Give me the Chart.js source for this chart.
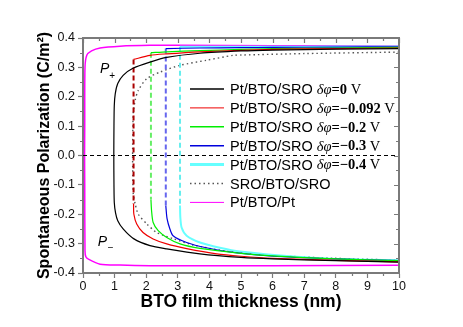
<!DOCTYPE html>
<html>
<head>
<meta charset="utf-8">
<script src="https://cdn.jsdelivr.net/npm/chart.js@4.4.0/dist/chart.umd.min.js"></script>
<style>
  html, body { margin: 0; padding: 0; background: #fff; }
</style>
</head>
<body>
<canvas id="polCanvas" width="463" height="327"></canvas>
<script>
// thickness (nm) / polarization (C/m2), upper branch first then lower
const thickBias0 = [10, 8, 6, 5, 3.7, 2.65, 2.12, 1.58, 1.27, 1.1, 1.02, 0.99, 0.98, 0.975, 0.98, 0.99, 1.03, 1.1, 1.27, 1.6, 2.12, 2.65, 3.7, 5, 6, 8, 10];
const polBias0 = [0.364, 0.362, 0.359, 0.356, 0.348, 0.334, 0.318, 0.297, 0.273, 0.245, 0.21, 0.17, 0.1, 0.0, -0.1, -0.16, -0.195, -0.222, -0.25, -0.283, -0.307, -0.318, -0.335, -0.347, -0.352, -0.358, -0.363];

const thickBias1 = [10, 8, 6, 5, 3.7, 2.65, 2.12, 1.6, 1.6, 1.61, 1.7, 1.9, 2.22, 2.65, 3.28, 4.23, 5, 6, 8, 10];
const polBias1 = [0.366, 0.364, 0.361, 0.358, 0.353, 0.346, 0.341, 0.327, -0.165, -0.2, -0.233, -0.262, -0.284, -0.301, -0.317, -0.335, -0.343, -0.35, -0.357, -0.362];

const thickBias2 = [10, 8, 6, 5, 3.7, 2.65, 2.15, 2.15, 2.17, 2.22, 2.38, 2.65, 3.07, 3.7, 5, 6, 8, 10];
const polBias2 = [0.368, 0.366, 0.364, 0.361, 0.357, 0.353, 0.35, -0.15, -0.188, -0.228, -0.256, -0.279, -0.301, -0.316, -0.333, -0.342, -0.352, -0.358];

const thickBias3 = [10, 8, 6, 5, 3.7, 2.62, 2.62, 2.66, 2.75, 2.85, 3.28, 3.9, 4.75, 6, 8, 10];
const polBias3 = [0.37, 0.369, 0.368, 0.367, 0.366, 0.364, -0.17, -0.215, -0.25, -0.273, -0.296, -0.314, -0.33, -0.343, -0.352, -0.358];

const thickBias4 = [10, 8, 6, 5, 4, 3.07, 3.07, 3.08, 3.12, 3.28, 3.7, 4.33, 4.97, 6.76, 8, 10];
const polBias4 = [0.371, 0.371, 0.37, 0.37, 0.37, 0.37, -0.17, -0.21, -0.245, -0.273, -0.296, -0.314, -0.327, -0.345, -0.352, -0.357];

const thickSro = [10, 7, 5, 4.75, 3.9, 3.07, 2.44, 2.02, 1.75, 1.65, 1.59, 1.57, 1.59, 1.65, 1.75, 2.02, 2.33, 2.85, 3.5, 4.5, 6, 8, 10];
const polSro = [0.352, 0.347, 0.342, 0.341, 0.324, 0.307, 0.284, 0.262, 0.222, 0.188, 0.143, 0, -0.13, -0.164, -0.2, -0.233, -0.262, -0.283, -0.305, -0.325, -0.34, -0.35, -0.356];

const thickPt = [10, 6, 3, 2.12, 1.17, 0.54, 0.27, 0.12, 0.063, 0.055, 0.05, 0.055, 0.063, 0.09, 0.17, 0.54, 1.17, 2.12, 3, 6, 10];
const polPt = [0.373, 0.374, 0.375, 0.375, 0.372, 0.366, 0.356, 0.341, 0.30, 0.1, 0, -0.1, -0.324, -0.345, -0.353, -0.37, -0.373, -0.375, -0.375, -0.375, -0.374];

const seriesNames = ['Pt/BTO/SRO', 'Pt/BTO/SRO', 'Pt/BTO/SRO', 'Pt/BTO/SRO', 'Pt/BTO/SRO', 'SRO/BTO/SRO', 'Pt/BTO/Pt'];
const biasValues = ['0', '\u22120.092', '\u22120.2', '\u22120.3', '\u22120.4', null, null];
const seriesColors = ['#000000', '#ee0000', '#00ee00', '#0000dd', '#66ffff', '#555555', '#ff00ff'];
const jumpColors = [null, '#aa0000', '#66ee66', '#6666ee', '#66eeee', null, null];
const jumpIndex = [-1, 7, 6, 5, 5, -1, -1];
const lineWidths = [1.2, 1.2, 1.2, 1.2, 2, 1.4, 1.5];

const xTicksMin = 0, xTicksMax = 10, yTicksMin = -0.4, yTicksMax = 0.4;

const thickSets = [thickBias0, thickBias1, thickBias2, thickBias3, thickBias4, thickSro, thickPt];
const polSets = [polBias0, polBias1, polBias2, polBias3, polBias4, polSro, polPt];

const axisGrey = '#7a7a7a';
const sans = '"Liberation Sans", Arial, sans-serif';
const serif = '"Liberation Serif", "Times New Roman", serif';

const datasets = [{
  label: 'zero',
  data: [{x: xTicksMin, y: 0}, {x: xTicksMax, y: 0}],
  borderColor: '#000',
  borderWidth: 1,
  borderDash: [4, 3],
  pointRadius: 0,
  showLine: true
}];

function lineSet(label, data, color, width, dash, tension) {
  return {
    label: label,
    data: data,
    borderColor: color,
    borderWidth: width,
    borderDash: dash,
    pointRadius: 0,
    showLine: true,
    tension: tension
  };
}

thickSets.forEach((ts, k) => {
  const label = seriesNames[k] + (biasValues[k] ? ' \u03b4\u03c6=' + biasValues[k] + ' V' : '');
  const pts = ts.map((t, i) => ({x: t, y: polSets[k][i]}));
  const j = jumpIndex[k];
  const dash = k === 5 ? [1.5, 3] : [];
  if (j < 0) {
    datasets.push(lineSet(label, pts, seriesColors[k], lineWidths[k], dash, 0.25));
  } else {
    // stable upper branch, dashed jump, lower branch
    datasets.push(lineSet(label, pts.slice(0, j + 1), seriesColors[k], lineWidths[k], dash, 0.25));
    datasets.push(lineSet(label + ' jump', pts.slice(j, j + 2), jumpColors[k], 2, [5, 3], 0));
    datasets.push(lineSet(label + ' lower', pts.slice(j + 1), seriesColors[k], lineWidths[k], dash, 0.25));
  }
});

function richText(ctx, x, y, parts) {
  parts.forEach(p => {
    ctx.font = p.font;
    ctx.fillText(p.text, x, y);
    x += ctx.measureText(p.text).width;
  });
}

const framePlugin = {
  id: 'frame',
  afterDraw(chart) {
    const {ctx, chartArea: a, scales: {x, y}} = chart;
    ctx.save();
    // top and right frame
    ctx.strokeStyle = axisGrey;
    ctx.lineWidth = 2;
    ctx.beginPath();
    ctx.moveTo(a.left, a.top);
    ctx.lineTo(a.right, a.top);
    ctx.lineTo(a.right, a.bottom);
    ctx.stroke();

    ctx.lineWidth = 1.2;
    ctx.beginPath();
    for (let v = x.min; v <= x.max + 1e-9; v += 0.5) {
      const px = Math.round(x.getPixelForValue(v)) + 0.5;
      const major = Math.abs(v - Math.round(v)) < 1e-9;
      ctx.moveTo(px, a.top);
      ctx.lineTo(px, a.top + (major ? 5 : 3));
      if (!major) {
        ctx.moveTo(px, a.bottom);
        ctx.lineTo(px, a.bottom + 3);
      }
    }
    for (let v = y.min; v <= y.max + 1e-9; v += 0.05) {
      const py = Math.round(y.getPixelForValue(v)) + 0.5;
      const major = Math.abs(v * 10 - Math.round(v * 10)) < 1e-6;
      ctx.moveTo(a.right, py);
      ctx.lineTo(a.right - (major ? 5 : 3), py);
      if (!major) {
        ctx.moveTo(a.left, py);
        ctx.lineTo(a.left - 3, py);
      }
    }
    ctx.stroke();

    // P+ / P- labels
    ctx.fillStyle = '#000';
    ctx.textBaseline = 'alphabetic';
    ctx.textAlign = 'left';
    ctx.font = 'italic 14px ' + sans;
    ctx.fillText('P', x.getPixelForValue(0.54), y.getPixelForValue(0.28));
    ctx.fillText('P', x.getPixelForValue(0.47), y.getPixelForValue(-0.307));
    ctx.font = '10px ' + sans;
    ctx.fillText('+', x.getPixelForValue(0.83), y.getPixelForValue(0.26));
    ctx.fillText('\u2212', x.getPixelForValue(0.78), y.getPixelForValue(-0.325));

    // legend
    const lx = a.left + 107, ly = a.top + 51, step = 18.9;
    seriesNames.forEach((name, k) => {
      const yy = ly + k * step;
      ctx.beginPath();
      ctx.strokeStyle = seriesColors[k];
      ctx.lineWidth = k === 4 ? 3 : (k === 1 || k === 6 ? 1 : 1.5);
      ctx.setLineDash(k === 5 ? [1.5, 3] : []);
      ctx.moveTo(lx, yy);
      ctx.lineTo(lx + 34, yy);
      ctx.stroke();
      ctx.setLineDash([]);
      ctx.fillStyle = '#000';
      ctx.textBaseline = 'middle';
      const parts = [{text: name, font: '14.5px ' + sans}];
      if (biasValues[k]) {
        parts.push({text: ' ', font: '14.5px ' + sans});
        parts.push({text: '\u03b4\u03c6', font: 'italic 14.5px ' + serif});
        parts.push({text: '=' + biasValues[k], font: 'bold 14.5px ' + serif});
        parts.push({text: ' V', font: '14.5px ' + serif});
      }
      richText(ctx, lx + 40, yy + 1, parts);
    });
    ctx.restore();
  }
};

Chart.defaults.animation = false;

new Chart(document.getElementById('polCanvas'), {
  type: 'scatter',
  data: {datasets: datasets},
  plugins: [framePlugin],
  options: {
    responsive: false,
    layout: {padding: {top: 38, right: 64, left: 0, bottom: 0}},
    plugins: {legend: {display: false}, tooltip: {enabled: false}},
    scales: {
      x: {
        type: 'linear',
        min: xTicksMin,
        max: xTicksMax,
        afterFit: s => { s.height = 54; },
        ticks: {
          stepSize: 1,
          color: '#111',
          padding: 1,
          font: {family: sans, size: 12.5}
        },
        grid: {drawOnChartArea: false, tickLength: 5, tickWidth: 1.2, tickColor: axisGrey},
        border: {color: axisGrey, width: 2},
        title: {
          display: true,
          text: 'BTO film thickness (nm)',
          color: '#000',
          font: {family: sans, size: 17.5, weight: 'bold'},
          padding: {bottom: 14}
        }
      },
      y: {
        type: 'linear',
        min: yTicksMin,
        max: yTicksMax,
        afterFit: s => { s.width = 83; },
        ticks: {
          stepSize: 0.1,
          color: '#111',
          padding: 3,
          font: {family: sans, size: 12.5},
          callback: v => Math.abs(v) < 1e-9 ? '0.0' : v.toFixed(1)
        },
        grid: {drawOnChartArea: false, tickLength: 5, tickWidth: 1.2, tickColor: axisGrey},
        border: {color: axisGrey, width: 2},
        title: {
          display: true,
          text: 'Spontaneous Polarization (C/m\u00b2)',
          color: '#000',
          font: {family: sans, size: 16, weight: 'bold'},
          padding: {top: 35}
        }
      }
    }
  }
});
</script>
</body>
</html>
